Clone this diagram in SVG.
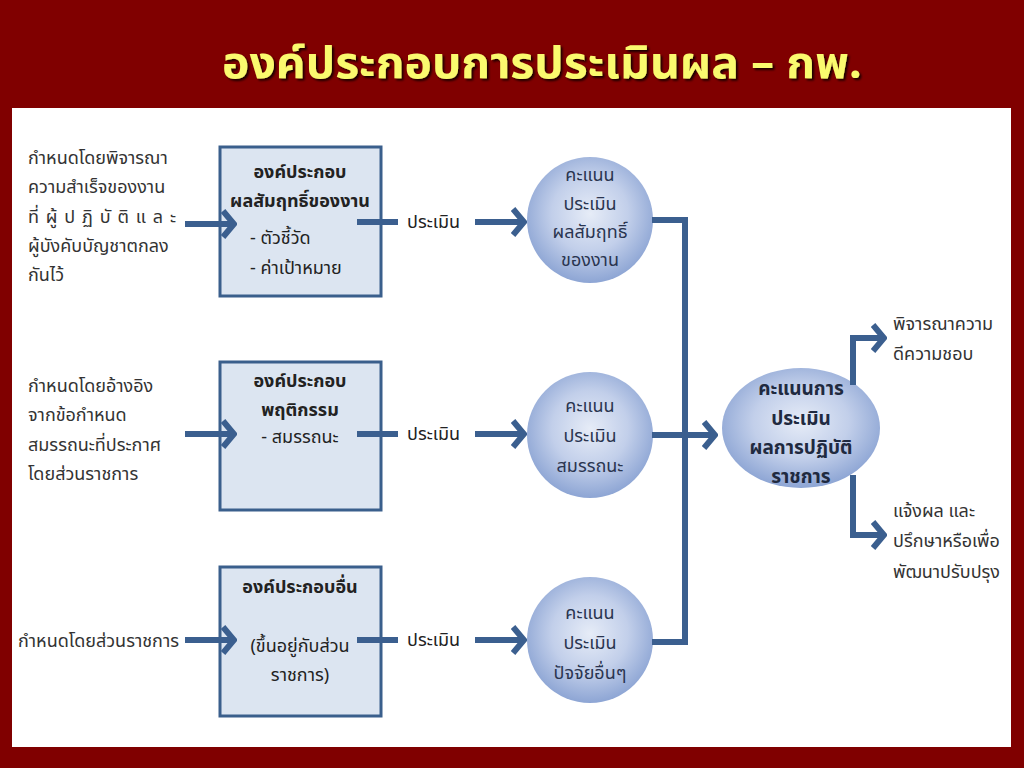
<svg xmlns="http://www.w3.org/2000/svg" width="1024" height="768" viewBox="0 0 1024 768">
<defs>
<style>
text{font-family:"Noto Sans Thai","Noto Sans","DejaVu Sans",sans-serif;}
.title{font-size:44px;font-weight:bold;fill:#fafa6e;text-anchor:middle;}
.lt{font-size:18px;fill:#333333;}
.bt{font-size:18px;fill:#222222;font-weight:bold;text-anchor:middle;}
.bn{font-size:18px;fill:#222222;}
.ct{font-size:18px;fill:#2a3550;text-anchor:middle;}
.et{font-size:19px;fill:#1f2a40;font-weight:bold;text-anchor:middle;}
.box{fill:#dce5f1;stroke:#3a5f8c;stroke-width:3;}
.con{fill:none;stroke:#3b5f8f;stroke-width:6;}
</style>
<radialGradient id="cg" cx="50%" cy="45%" r="55%">
<stop offset="0" stop-color="#e6ecf7"/>
<stop offset="0.55" stop-color="#c2cfea"/>
<stop offset="1" stop-color="#8da5d4"/>
</radialGradient>
<filter id="sh" x="-5%" y="-20%" width="110%" height="140%">
<feDropShadow dx="2" dy="2" stdDeviation="1" flood-color="#000000" flood-opacity="0.8"/>
</filter>
<marker id="chev" viewBox="0 0 16 30" refX="13" refY="15" markerWidth="16" markerHeight="30" markerUnits="userSpaceOnUse" orient="auto">
<path d="M2,2 L13,15 L2,28" fill="none" stroke="#3b5f8f" stroke-width="6" stroke-linejoin="miter"/>
</marker>
</defs>
<rect x="0" y="0" width="1024" height="768" fill="#800000"/>
<rect x="12" y="108" width="999" height="639" fill="#ffffff"/>
<text class="title" x="542" y="78" textLength="640" lengthAdjust="spacingAndGlyphs" filter="url(#sh)">องค์ประกอบการประเมินผล – กพ.</text>

<g id="src1">
<text class="lt" x="28" y="164">กำหนดโดยพิจารณา</text>
<text class="lt" x="28" y="193">ความสำเร็จของงาน</text>
<text class="lt" x="28" y="223" textLength="148" lengthAdjust="spacing">ที่ ผู้ ป ฏิ บั ติ แ ล ะ</text>
<text class="lt" x="28" y="252">ผู้บังคับบัญชาตกลง</text>
<text class="lt" x="28" y="281">กันไว้</text>
</g>
<g id="src2">
<text class="lt" x="28" y="392">กำหนดโดยอ้างอิง</text>
<text class="lt" x="28" y="421">จากข้อกำหนด</text>
<text class="lt" x="28" y="451">สมรรถนะที่ประกาศ</text>
<text class="lt" x="28" y="480">โดยส่วนราชการ</text>
</g>
<g id="src3">
<text class="lt" x="18" y="647">กำหนดโดยส่วนราชการ</text>
</g>

<g id="box1">
<rect class="box" x="220" y="147" width="161" height="149"/>
<text class="bt" x="300" y="178">องค์ประกอบ</text>
<text class="bt" x="300" y="207">ผลสัมฤทธิ์ของงาน</text>
<text class="bn" x="250" y="244">- ตัวชี้วัด</text>
<text class="bn" x="250" y="274">- ค่าเป้าหมาย</text>
</g>
<g id="box2">
<rect class="box" x="220" y="362" width="161" height="148"/>
<text class="bt" x="300" y="387">องค์ประกอบ</text>
<text class="bt" x="300" y="416">พฤติกรรม</text>
<text class="bn" x="300" y="443" text-anchor="middle">- สมรรถนะ</text>
</g>
<g id="box3">
<rect class="box" x="220" y="567" width="161" height="149"/>
<text class="bt" x="300" y="593">องค์ประกอบอื่น</text>
<text class="bn" x="300" y="652" text-anchor="middle">(ขึ้นอยู่กับส่วน</text>
<text class="bn" x="300" y="681" text-anchor="middle">ราชการ)</text>
</g>

<g id="circle1">
<circle cx="590" cy="220" r="63" fill="url(#cg)"/>
<text class="ct" x="590" y="181">คะแนน</text>
<text class="ct" x="590" y="210">ประเมิน</text>
<text class="ct" x="590" y="238">ผลสัมฤทธิ์</text>
<text class="ct" x="590" y="266">ของงาน</text>
</g>
<g id="circle2">
<circle cx="590" cy="435" r="63" fill="url(#cg)"/>
<text class="ct" x="590" y="412">คะแนน</text>
<text class="ct" x="590" y="442">ประเมิน</text>
<text class="ct" x="590" y="472">สมรรถนะ</text>
</g>
<g id="circle3">
<circle cx="590" cy="640" r="63" fill="url(#cg)"/>
<text class="ct" x="590" y="619">คะแนน</text>
<text class="ct" x="590" y="649">ประเมิน</text>
<text class="ct" x="590" y="679">ปัจจัยอื่นๆ</text>
</g>
<g id="total">
<ellipse cx="801" cy="428" rx="79" ry="60" fill="url(#cg)"/>
<text class="et" x="801" y="395">คะแนนการ</text>
<text class="et" x="801" y="425">ประเมิน</text>
<text class="et" x="801" y="454">ผลการปฏิบัติ</text>
<text class="et" x="801" y="483">ราชการ</text>
</g>
<g id="out1">
<text class="lt" x="893" y="330">พิจารณาความ</text>
<text class="lt" x="893" y="360">ดีความชอบ</text>
</g>
<g id="out2">
<text class="lt" x="893" y="517">แจ้งผล และ</text>
<text class="lt" x="893" y="547">ปรึกษาหรือเพื่อ</text>
<text class="lt" x="893" y="578">พัฒนาปรับปรุง</text>
</g>

<g id="connectors">
<line class="con" x1="185" y1="224" x2="234" y2="224" marker-end="url(#chev)"/>
<line class="con" x1="185" y1="434" x2="234" y2="434" marker-end="url(#chev)"/>
<line class="con" x1="185" y1="640" x2="234" y2="640" marker-end="url(#chev)"/>
<line class="con" x1="357" y1="222" x2="398" y2="222"/>
<line class="con" x1="357" y1="434" x2="398" y2="434"/>
<line class="con" x1="357" y1="640" x2="398" y2="640"/>
<text class="bn" x="407" y="228">ประเมิน</text>
<text class="bn" x="407" y="440">ประเมิน</text>
<text class="bn" x="407" y="646">ประเมิน</text>
<line class="con" x1="475" y1="222" x2="524" y2="222" marker-end="url(#chev)"/>
<line class="con" x1="475" y1="434" x2="524" y2="434" marker-end="url(#chev)"/>
<line class="con" x1="475" y1="640" x2="524" y2="640" marker-end="url(#chev)"/>
<polyline class="con" points="652,220 685,220 685,642 652,642"/>
<line class="con" x1="652" y1="435" x2="715" y2="435" marker-end="url(#chev)"/>
<polyline class="con" points="853,385 853,338 884,338" marker-end="url(#chev)"/>
<polyline class="con" points="853,475 853,535 884,535" marker-end="url(#chev)"/>
</g>
</svg>
